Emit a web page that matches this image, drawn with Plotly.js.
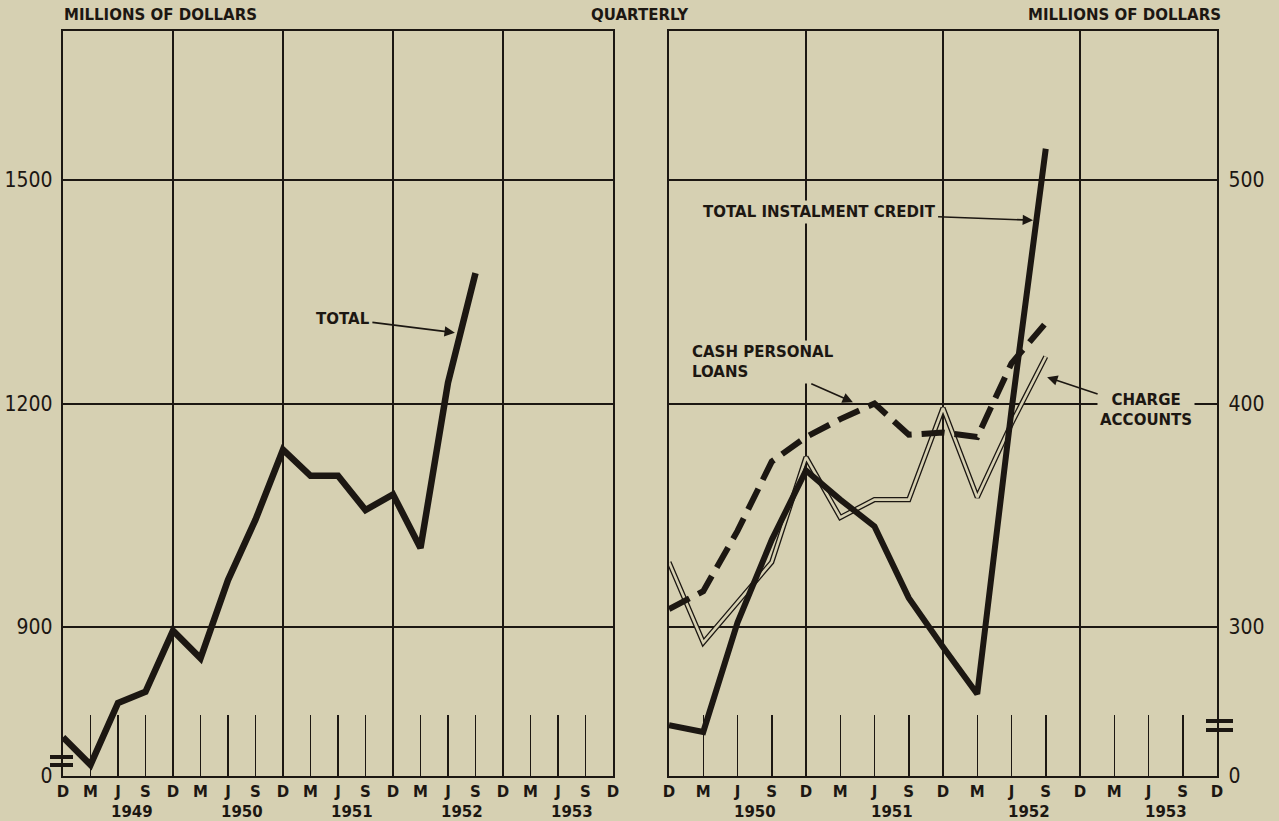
<!DOCTYPE html>
<html>
<head>
<meta charset="utf-8">
<script src="https://cdn.plot.ly/plotly-3.0.1.min.js"></script>
<style>html,body{margin:0;padding:0;background:#d6d0b2;}#chart{width:1279px;height:821px;}</style>
</head>
<body>
<div id="chart"></div>
<script>
// ---------- DATA ----------
// Left panel: quarters D 1948 ... D 1953
const leftQuarterLabels = ['D','M','J','S','D','M','J','S','D','M','J','S','D','M','J','S','D','M','J','S','D'];
const leftYears = ['1949','1950','1951','1952','1953'];
// Total (millions of dollars), D 1948 ... S 1952
const leftTotal = [752, 715, 798, 813, 895, 858, 963, 1044, 1138, 1103, 1103, 1057, 1078, 1006, 1228, 1375];
const leftTickVals = [700, 900, 1200, 1500];
const leftTickText = ['0', '900', '1200', '1500'];

// Right panel: quarters D 1949 ... D 1953
const rightQuarterLabels = ['D','M','J','S','D','M','J','S','D','M','J','S','D','M','J','S','D'];
const rightYears = ['1950','1951','1952','1953'];
// D 1949 ... S 1952
const totalInstalment = [256, 253, 302, 339, 370, 357, 345, 313, 291, 270, 397, 514];
const cashPersonal    = [308, 316, 343, 374, 385, 393, 400, 386, 387, 385, 418, 436];
const chargeAccounts  = [329, 293, 311, 329, 376, 349, 357, 357, 398, 358, 391, 421];
const rightTickVals = [233.3, 300, 400, 500];
const rightTickText = ['0', '300', '400', '500'];

// ---------- STYLE ----------
const W = 1279, H = 821;
const BG = '#d6d0b2';
const INK = '#1c1712';
const px = x => x / W;
const py = y => 1 - y / H;
const letterFont = {family: 'DejaVu Sans, Verdana, sans-serif', size: 15, color: INK, weight: 'bold'};
const headFont = {family: 'DejaVu Sans, Verdana, sans-serif', size: 15, color: INK, weight: 'bold'};
const noteFont = {family: 'DejaVu Sans, Verdana, sans-serif', size: 15, color: INK, weight: 'bold'};
const numFont = {family: 'DejaVu Sans Condensed, Liberation Sans Narrow, Arial Narrow, sans-serif', size: 21, color: INK};
const idx = arr => arr.map((_, i) => i);
const seq = (n, step) => Array.from({length: n}, (_, i) => i * step);

const traces = [
  {x: idx(leftTotal), y: leftTotal, xaxis: 'x', yaxis: 'y', mode: 'lines',
   line: {color: INK, width: 6.5}, hoverinfo: 'skip'},
  // charge accounts: double line (outline + background core)
  {x: idx(chargeAccounts), y: chargeAccounts, xaxis: 'x2', yaxis: 'y2', mode: 'lines',
   line: {color: INK, width: 5.2}, hoverinfo: 'skip'},
  {x: idx(chargeAccounts), y: chargeAccounts, xaxis: 'x2', yaxis: 'y2', mode: 'lines',
   line: {color: BG, width: 2.6}, hoverinfo: 'skip'},
  {x: idx(cashPersonal), y: cashPersonal, xaxis: 'x2', yaxis: 'y2', mode: 'lines',
   line: {color: INK, width: 6, dash: '23px,10px'}, hoverinfo: 'skip'},
  {x: idx(totalInstalment), y: totalInstalment, xaxis: 'x2', yaxis: 'y2', mode: 'lines',
   line: {color: INK, width: 6}, hoverinfo: 'skip'}
];

const yDomain = [45 / H, 790 / H];
const gridAxisX = (dom, n) => ({
  domain: dom, range: [0, n], tickmode: 'array', tickvals: seq(n / 4 + 1, 4),
  showticklabels: false, showgrid: true, gridcolor: INK, gridwidth: 2,
  showline: true, mirror: true, linecolor: INK, linewidth: 2.2, zeroline: false, ticks: '',
  fixedrange: true
});
const labelAxisX = (over, anchor, labels) => ({
  overlaying: over, anchor: anchor, range: [0, labels.length - 1],
  tickmode: 'array', tickvals: idx(labels), ticktext: labels,
  ticks: 'inside', ticklen: 61, tickwidth: 1.5, tickcolor: INK,
  showgrid: false, showline: false, zeroline: false,
  tickfont: letterFont, ticklabelstandoff: 5, fixedrange: true
});

const annotations = [];
// Year labels
leftYears.forEach((yr, i) => annotations.push({
  text: yr, xref: 'x', yref: 'paper', x: 2.5 + 4 * i, y: py(812),
  showarrow: false, font: letterFont, xanchor: 'center', yanchor: 'middle'}));
rightYears.forEach((yr, i) => annotations.push({
  text: yr, xref: 'x2', yref: 'paper', x: 2.5 + 4 * i, y: py(812),
  showarrow: false, font: letterFont, xanchor: 'center', yanchor: 'middle'}));
// Headers
annotations.push({text: 'MILLIONS OF DOLLARS', xref: 'paper', yref: 'paper', x: px(62), y: py(15),
  xanchor: 'left', yanchor: 'middle', showarrow: false, font: headFont});
annotations.push({text: 'QUARTERLY', xref: 'paper', yref: 'paper', x: px(640), y: py(15),
  xanchor: 'center', yanchor: 'middle', showarrow: false, font: headFont});
annotations.push({text: 'MILLIONS OF DOLLARS', xref: 'paper', yref: 'paper', x: px(1223), y: py(15),
  xanchor: 'right', yanchor: 'middle', showarrow: false, font: headFont});
// Line labels with arrows
const arrowStyle = {showarrow: true, arrowhead: 2, arrowsize: 1.3, arrowwidth: 1.6, arrowcolor: INK,
  font: noteFont, bgcolor: BG, borderpad: 2};
annotations.push(Object.assign({}, arrowStyle, {text: 'TOTAL', xref: 'x', yref: 'y', x: 14.25, y: 1295,
  ax: -112, ay: -14}));
annotations.push(Object.assign({}, arrowStyle, {text: 'TOTAL INSTALMENT CREDIT', xref: 'x2', yref: 'y2',
  x: 10.63, y: 482, ax: -214, ay: -8}));
annotations.push(Object.assign({}, arrowStyle, {text: 'CASH PERSONAL<br>LOANS', align: 'left', xref: 'x2', yref: 'y2',
  x: 5.37, y: 400.6, ax: -90, ay: -40}));
annotations.push(Object.assign({}, arrowStyle, {text: 'CHARGE<br>ACCOUNTS', align: 'center', xref: 'x2', yref: 'y2',
  x: 11.04, y: 411.8, ax: 99, ay: 33}));

// Scale-break marks
const brk = (x0, x1, y) => ({type: 'line', xref: 'paper', yref: 'paper', x0: px(x0), x1: px(x1), y0: py(y), y1: py(y),
  line: {color: INK, width: 4}, layer: 'above'});
const shapes = [brk(50, 73, 757), brk(50, 73, 765), brk(1206, 1233, 721), brk(1206, 1233, 730)];

const layout = {
  width: W, height: H, margin: {l: 0, r: 0, t: 0, b: 0},
  paper_bgcolor: BG, plot_bgcolor: BG, showlegend: false,
  xaxis: Object.assign(gridAxisX([63 / W, 613 / W], 20), {anchor: 'y'}),
  xaxis3: labelAxisX('x', 'y', leftQuarterLabels),
  xaxis2: Object.assign(gridAxisX([669 / W, 1217 / W], 16), {anchor: 'y2'}),
  xaxis4: labelAxisX('x2', 'y2', rightQuarterLabels),
  yaxis: {domain: yDomain, anchor: 'x', range: [700, 1700], tickmode: 'array', tickvals: leftTickVals, ticktext: leftTickText,
    showgrid: true, gridcolor: INK, gridwidth: 2, showline: true, mirror: true, linecolor: INK, linewidth: 2.2,
    zeroline: false, ticks: '', tickfont: numFont, ticklabelstandoff: 4, fixedrange: true},
  yaxis2: {domain: yDomain, anchor: 'x2', side: 'right', range: [233.3, 566.7], tickmode: 'array', tickvals: rightTickVals, ticktext: rightTickText,
    showgrid: true, gridcolor: INK, gridwidth: 2, showline: true, mirror: true, linecolor: INK, linewidth: 2.2,
    zeroline: false, ticks: '', tickfont: numFont, ticklabelstandoff: 5, fixedrange: true},
  annotations: annotations,
  shapes: shapes
};

// dummy traces so overlay label axes are drawn
traces.push({x: [0], y: [null], xaxis: 'x3', yaxis: 'y', mode: 'lines', hoverinfo: 'skip'});
traces.push({x: [0], y: [null], xaxis: 'x4', yaxis: 'y2', mode: 'lines', hoverinfo: 'skip'});

Plotly.newPlot('chart', traces, layout, {staticPlot: true, displayModeBar: false});
</script>
</body>
</html>
